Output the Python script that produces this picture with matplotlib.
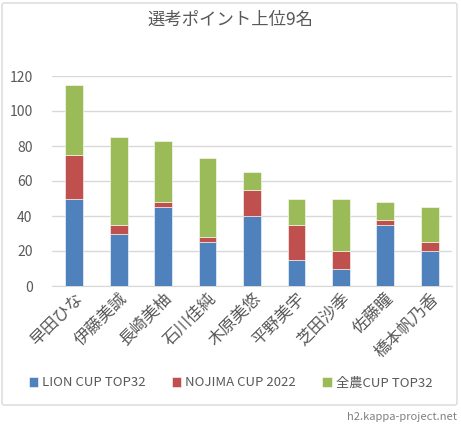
import matplotlib
matplotlib.use("Agg")
import matplotlib.pyplot as plt
from matplotlib.patches import FancyBboxPatch
import numpy as np

plt.rcParams['font.family'] = ['Noto Sans CJK JP', 'DejaVu Sans']

names = ["早田ひな", "伊藤美誠", "長崎美柚", "石川佳純", "木原美悠", "平野美宇", "芝田沙季", "佐藤瞳", "橋本帆乃香"]
lion = [50, 30, 45, 25, 40, 15, 10, 35, 20]
nojima = [25, 5, 3, 3, 15, 20, 10, 3, 5]
zennoh = [40, 50, 35, 45, 10, 15, 30, 10, 20]
series_labels = ["LION CUP TOP32", "NOJIMA CUP 2022", "全農CUP TOP32"]
colors = ["#4F81BD", "#C0504D", "#9BBB59"]
yticks = [0, 20, 40, 60, 80, 100, 120]

W, H = 461, 425
fig = plt.figure(figsize=(W/100, H/100), dpi=100)
fig.patch.set_facecolor("white")

box = FancyBboxPatch((2/W, 20/H), 455/W, 402/H, boxstyle="round,pad=0,rounding_size=0.005",
                     transform=fig.transFigure, facecolor="white", edgecolor="#D9D9D9", lw=1, zorder=-5)
fig.patches.append(box)

ax = fig.add_axes([52/W, 1-286/H, 400/W, 210/H])
ax.set_facecolor("none")
x = np.arange(len(names))
bottom = np.zeros(len(names))
for vals, c, lab in zip([lion, nojima, zennoh], colors, series_labels):
    ax.bar(x, vals, 0.4, bottom=bottom, color=c, label=lab, edgecolor="white", linewidth=0.4, zorder=3)
    bottom += np.array(vals)

ax.set_ylim(0, 120)
ax.set_xlim(-0.5, len(names)-0.5)
ax.set_yticks(yticks)
ax.yaxis.grid(True, color="#D9D9D9", lw=1, zorder=0)
for s in ["top", "right", "left"]:
    ax.spines[s].set_visible(False)
ax.spines["bottom"].set_color("#D9D9D9")
ax.tick_params(axis="both", length=0, colors="#595959", labelsize=10)
ax.tick_params(axis="y", pad=14)
ax.set_xticks(x)
ax.set_xticklabels(names, rotation=45, ha="right", rotation_mode="anchor", fontsize=12)
ax.tick_params(axis="x", pad=3)

fig.text(0.5, 1-20/H, "選考ポイント上位9名", ha="center", va="center", fontsize=12.5, color="#595959")

handles, labels = ax.get_legend_handles_labels()
leg = fig.legend(handles, labels, loc="center", bbox_to_anchor=(0.5, 1-383/H), ncol=3, frameon=False,
                 fontsize=9.5, handlelength=0.7, handleheight=0.7, handletextpad=0.3, columnspacing=2.0,
                 labelcolor="#595959")

fig.text(457/W, 1-417/H, "h2.kappa-project.net", ha="right", va="center", fontsize=8, color="#808080")

fig.savefig("out.png", dpi=100)
